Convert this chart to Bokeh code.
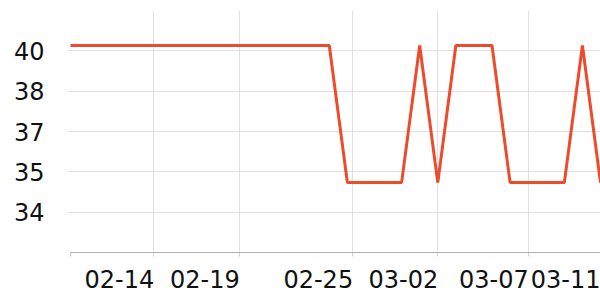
import pandas as pd
from bokeh.plotting import figure
from bokeh.models import FixedTicker, CustomJSTickFormatter, Range1d, ColumnDataSource
from bokeh.embed import file_html
from bokeh.resources import INLINE

# ---- data ----
dates = pd.date_range("2023-02-09", "2023-03-11", freq="D")
values = [40.2] * 16 + [35.1] * 4 + [40.2, 35.1] + [40.2] * 3 + [35.1] * 4 + [40.2, 35.1]

x_start = "2023-02-09 16:30"
x_end = "2023-03-11 00:00"
x_tick_times = ["2023-02-09 16:30", "2023-02-14 07:00", "2023-02-19 00:30",
                "2023-02-25 07:00", "2023-03-02 00:00", "2023-03-07 00:00", "2023-03-11 00:00"]
y_ticks = [34, 35.5, 37, 38.5, 40]
y_start, y_end = 32.5, 41.5

def ms(s):
    return pd.Timestamp(s).value / 1e6

source = ColumnDataSource(dict(x=dates, y=values))

p = figure(width=600, height=300, x_axis_type="datetime",
           output_backend="svg", toolbar_location=None,
           x_range=Range1d(ms(x_start), ms(x_end)),
           y_range=Range1d(y_start, y_end),
           min_border_left=70, min_border_right=0, min_border_top=10, min_border_bottom=48)
p.outline_line_color = None
p.background_fill_color = "white"
p.border_fill_color = "white"

p.line("x", "y", source=source, line_color="#ef4a2c", line_width=3)

xa = p.xaxis[0]
xa.ticker = FixedTicker(ticks=[ms(t) for t in x_tick_times])
# labels sit to the left of their tick (right-aligned): pad with blank space of equal width
xa.formatter = CustomJSTickFormatter(code="""
    if (index == 0) { return ""; }
    const d = new Date(tick);
    const m = String(d.getUTCMonth() + 1).padStart(2, "0");
    const dd = String(d.getUTCDate()).padStart(2, "0");
    const s = m + "-" + dd;
    if (index == ticks.length - 1) { return s; }
    return s + "\\u2007\\u2007\\u2007\\u2007\\u00a0";
""")
xa.axis_line_color = "#b0b0b0"
xa.major_tick_line_color = "#cccccc"
xa.major_tick_out = 4
xa.major_tick_in = 0
xa.minor_tick_line_color = None
xa.major_label_text_font = "DejaVu Sans"
xa.major_label_text_font_size = "24px"
xa.major_label_text_color = "#111111"
xa.major_label_standoff = 9

ya = p.yaxis[0]
ya.ticker = FixedTicker(ticks=y_ticks)
ya.formatter = CustomJSTickFormatter(code="return Math.floor(tick).toString();")
ya.axis_line_color = None
ya.major_tick_line_color = "#cccccc"
ya.major_tick_out = 2
ya.major_tick_in = 0
ya.minor_tick_line_color = None
ya.major_label_text_font = "DejaVu Sans"
ya.major_label_text_font_size = "24px"
ya.major_label_text_color = "#111111"
ya.major_label_standoff = 24

p.xgrid.grid_line_color = "#e0e0e0"
p.ygrid.grid_line_color = "#e0e0e0"

open("out.html", "w").write(file_html(p, INLINE))
